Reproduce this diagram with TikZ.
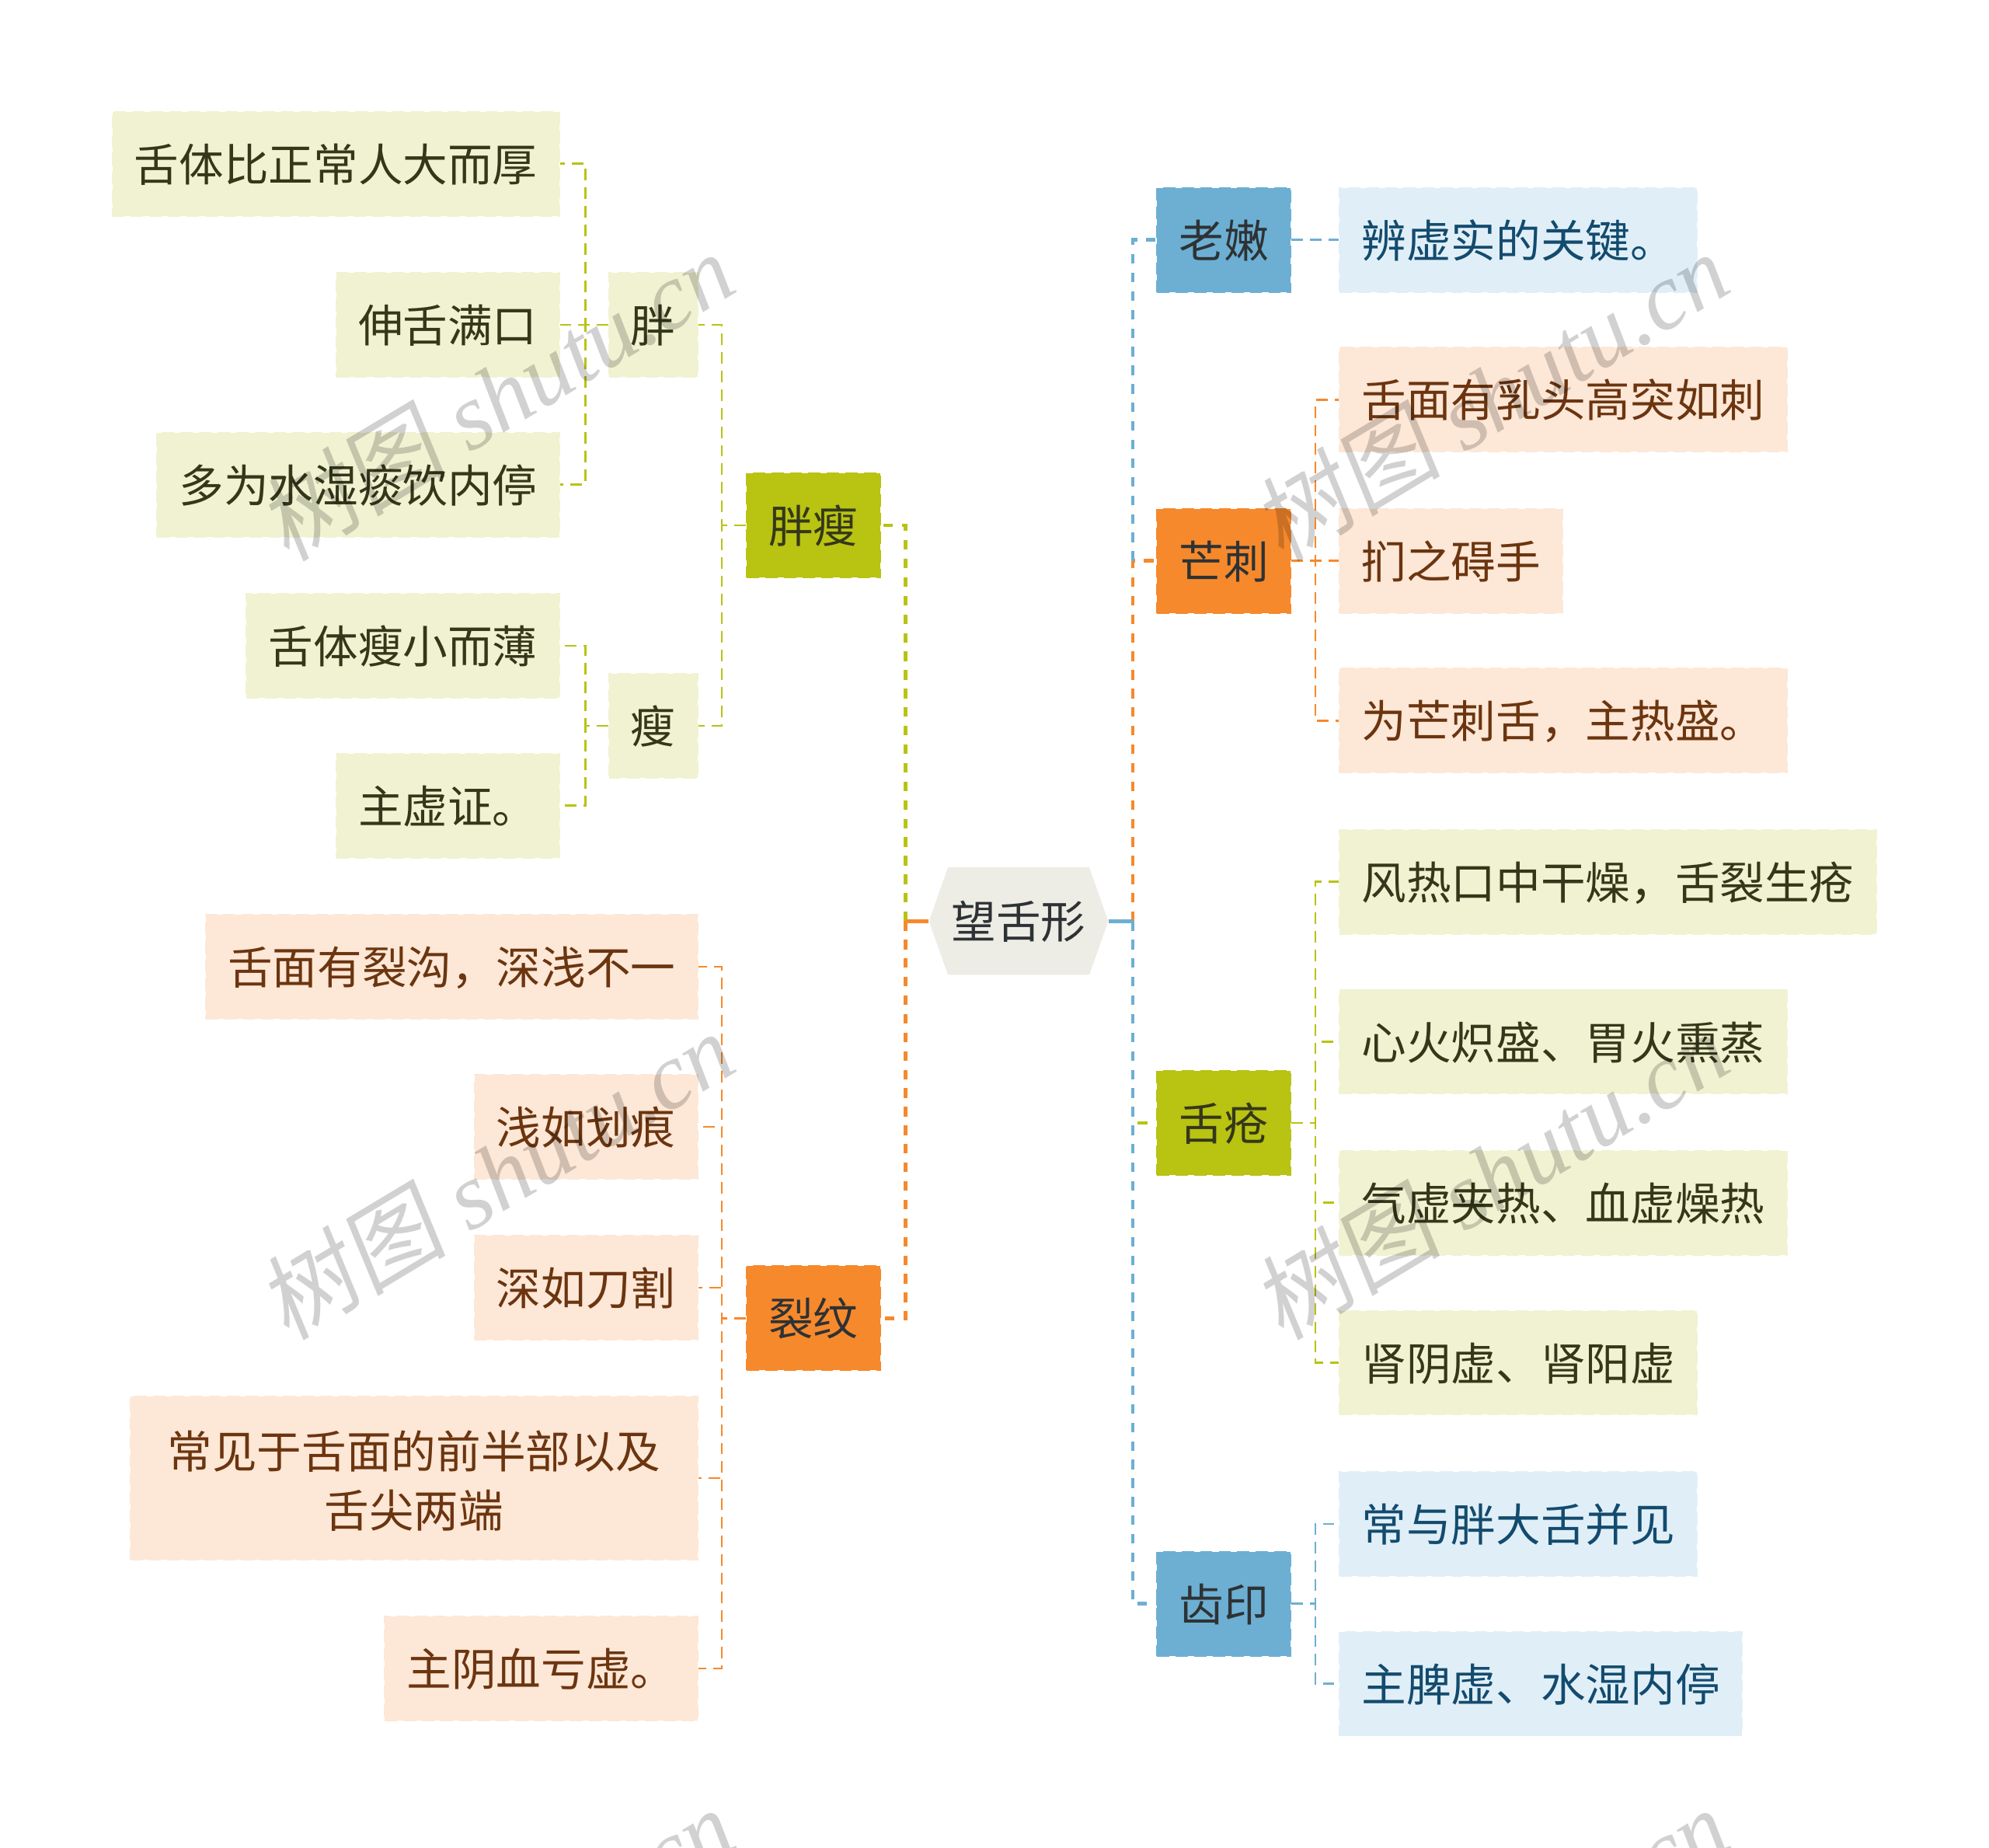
\documentclass[tikz,border=0pt]{standalone}
\usepackage{fontspec}
\usepackage{xcolor}
\setmainfont{Noto Sans CJK SC}
\newfontfamily\markfont{Liberation Serif}
\newfontfamily\markcjk[FakeSlant=0.15]{Noto Sans CJK SC}
\usetikzlibrary{shapes.symbols}
\definecolor{olivebar}{HTML}{B8C312}
\definecolor{orangebar}{HTML}{F6892C}
\definecolor{bluebar}{HTML}{6CAFD3}
\definecolor{olivepale}{HTML}{F0F2D2}
\definecolor{orangepale}{HTML}{FDE7D6}
\definecolor{bluepale}{HTML}{E0EFF7}
\definecolor{rootfill}{HTML}{EDEDE6}
\definecolor{olivetext}{HTML}{35371A}
\definecolor{orangetext}{HTML}{6B3510}
\definecolor{bluetext}{HTML}{134B6E}
\definecolor{darktext}{HTML}{2E3234}
\tikzset{
  basebox/.style={inner xsep=16.1pt,inner ysep=0pt,minimum height=76.2pt,text height=31pt,text depth=5.3pt,
    dash pattern=on 9pt off 4.6pt,line width=1.1pt,font=\fontsize{32.8}{43.5}\selectfont},
  olivebig/.style={basebox,fill=olivebar,draw=olivebar,text=olivetext},
  orangebig/.style={basebox,fill=orangebar,draw=orangebar,text=darktext},
  bluebig/.style={basebox,fill=bluebar,draw=bluebar,text=darktext},
  oliveleaf/.style={basebox,fill=olivepale,draw=olivepale,text=olivetext},
  orangeleaf/.style={basebox,fill=orangepale,draw=orangepale,text=orangetext},
  blueleaf/.style={basebox,fill=bluepale,draw=bluepale,text=bluetext},
  rootnode/.style={signal,signal to=west and east,signal pointer angle=141,fill=rootfill,
    minimum width=131.4pt,minimum height=78.7pt,inner sep=0pt,text=darktext,font=\fontsize{32.8}{43.5}\selectfont},
  trunk/.style={line width=2.6pt,dash pattern=on 7pt off 6.6pt},
  twig/.style={line width=1.5pt,dash pattern=on 8.5pt off 5.1pt},
  watermark/.style={rotate=31,text=black,text opacity=0.18,inner sep=0pt}
}
\begin{document}
\begin{tikzpicture}[x=0.0326531cm,y=-0.0326531cm]
\useasboundingbox (0,0) rectangle (1568,1456.5);
\clip (0,0) rectangle (1568,1456.5);

% centre
\node[rootnode] (root) at (803,726) {望舌形};
\coordinate (lefttrunk) at (714,726);
\coordinate (righttrunk) at (893,726);

% left side
\node[olivebig,anchor=east] (panshou) at (694.5,414) {胖瘦};
\node[oliveleaf,anchor=east] (pang) at (550.5,256) {胖};
\node[oliveleaf,anchor=east] (shou) at (550.5,572) {瘦};
\node[oliveleaf,anchor=east] (pa) at (441.5,129) {舌体比正常人大而厚};
\node[oliveleaf,anchor=east] (pb) at (441.5,256) {伸舌满口};
\node[oliveleaf,anchor=east] (pc) at (441.5,382) {多为水湿痰饮内停};
\node[oliveleaf,anchor=east] (sa) at (441.5,509) {舌体瘦小而薄};
\node[oliveleaf,anchor=east] (sb) at (441.5,635) {主虚证。};

\node[orangebig,anchor=east] (liewen) at (694.5,1039) {裂纹};
\node[orangeleaf,anchor=east] (la) at (550.5,762) {舌面有裂沟，深浅不一};
\node[orangeleaf,anchor=east] (lb) at (550.5,888) {浅如划痕};
\node[orangeleaf,anchor=east] (lc) at (550.5,1015) {深如刀割};
\node[orangeleaf,anchor=east,minimum height=119.4pt,minimum width=415.5pt,align=center,text height=,text depth=] (ld) at (550.5,1165) {\rule{0pt}{32pt}常见于舌面的前半部以及\\舌尖两端};
\node[orangeleaf,anchor=east] (le) at (550.5,1315) {主阴血亏虚。};

% right side
\node[bluebig,anchor=west] (laonen) at (911.5,189) {老嫩};
\node[orangebig,anchor=west] (mangci) at (911.5,442) {芒刺};
\node[olivebig,anchor=west] (shechuang) at (911.5,885) {舌疮};
\node[bluebig,anchor=west] (chiyin) at (911.5,1264) {齿印};

\node[blueleaf,anchor=west] (na) at (1055.5,189) {辨虚实的关键。};
\node[orangeleaf,anchor=west] (ma) at (1055.5,315) {舌面有乳头高突如刺};
\node[orangeleaf,anchor=west] (mb) at (1055.5,442) {扪之碍手};
\node[orangeleaf,anchor=west] (mc) at (1055.5,568) {为芒刺舌，主热盛。};
\node[oliveleaf,anchor=west] (ca) at (1055.5,695) {风热口中干燥，舌裂生疮};
\node[oliveleaf,anchor=west] (cb) at (1055.5,821) {心火炽盛、胃火熏蒸};
\node[oliveleaf,anchor=west] (cc) at (1055.5,948) {气虚夹热、血虚燥热};
\node[oliveleaf,anchor=west] (cd) at (1055.5,1074) {肾阴虚、肾阳虚};
\node[blueleaf,anchor=west] (ya) at (1055.5,1201) {常与胖大舌并见};
\node[blueleaf,anchor=west] (yb) at (1055.5,1327) {主脾虚、水湿内停};

% main branches
\draw[trunk,olivebar] (lefttrunk) |- (panshou.east);
\draw[trunk,orangebar] (lefttrunk) |- (liewen.east);
\draw[line width=2.6pt,orangebar] (root.west) -- (lefttrunk);
\draw[trunk,orangebar] (righttrunk) |- (mangci.west);
\draw[trunk,bluebar] (mangci.west -| righttrunk) |- (laonen.west);
\draw[trunk,bluebar] (righttrunk) |- (chiyin.west);
\draw[trunk,olivebar,dash phase=10pt] (shechuang.west -| righttrunk) -- (shechuang.west);
\draw[line width=2.6pt,bluebar] (root.east) -- (righttrunk);

% small branches
\foreach \kid in {pang,shou}{
\draw[twig,olivebar] (panshou.west) --++ (-19,0) |- (\kid.east);
}
\foreach \kid in {pa,pb,pc}{
\draw[twig,olivebar] (pang.west) --++ (-18,0) |- (\kid.east);
}
\foreach \kid in {sa,sb}{
\draw[twig,olivebar] (shou.west) --++ (-18,0) |- (\kid.east);
}
\foreach \kid in {la,lb,lc,ld,le}{
\draw[twig,orangebar] (liewen.west) --++ (-19,0) |- (\kid.east);
}
\draw[twig,bluebar] (laonen.east) -- (na.west);
\foreach \kid in {ma,mb,mc}{
\draw[twig,orangebar] (mangci.east) --++ (19,0) |- (\kid.west);
}
\foreach \kid in {ca,cb,cc,cd}{
\draw[twig,olivebar] (shechuang.east) --++ (19,0) |- (\kid.west);
}
\foreach \kid in {ya,yb}{
\draw[twig,bluebar] (chiyin.east) --++ (19,0) |- (\kid.west);
}

% watermark
\foreach \i/\x/\y in {1/391/312,2/391/926,3/1175/312,4/1175/926,5/391/1538,6/1175/1538}{
\node[watermark] (mark\i) at (\x,\y) {\fontsize{69}{69}\selectfont\markcjk 树图\markfont\itshape{} shutu.cn};
}
\end{tikzpicture}
\end{document}
